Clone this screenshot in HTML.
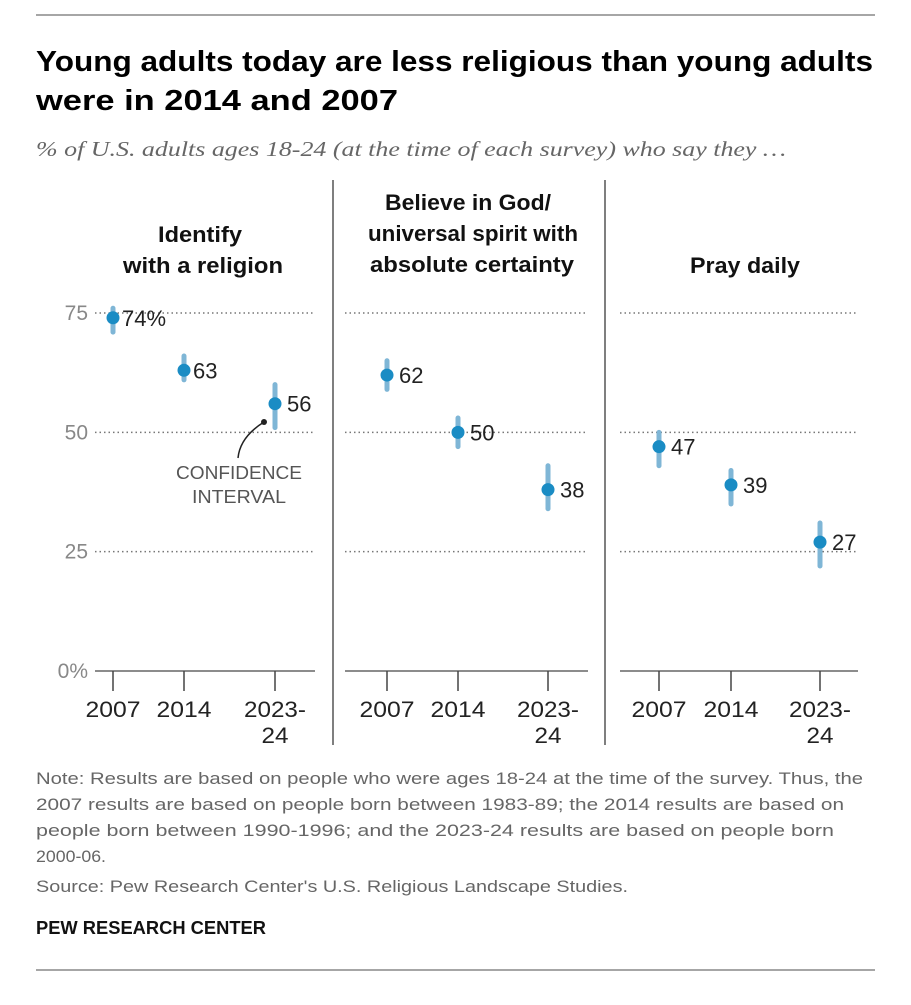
<!DOCTYPE html>
<html><head><meta charset="utf-8"><style>
body{margin:0;background:#fff;width:911px;height:1000px;overflow:hidden;font-family:"Liberation Sans",sans-serif}
</style></head><body>
<svg width="911" height="1000" xmlns="http://www.w3.org/2000/svg" font-family="Liberation Sans, sans-serif">
<line x1="36" y1="15" x2="875" y2="15" stroke="#888" stroke-width="1.5"/>
<text x="36" y="71" font-size="29" font-weight="bold" fill="#000" textLength="837" lengthAdjust="spacingAndGlyphs">Young adults today are less religious than young adults</text>
<text x="36" y="110" font-size="29" font-weight="bold" fill="#000" textLength="362" lengthAdjust="spacingAndGlyphs">were in 2014 and 2007</text>
<text x="36" y="156" font-size="21" font-style="italic" fill="#666" font-family="Liberation Serif, serif" textLength="750" lengthAdjust="spacingAndGlyphs">% of U.S. adults ages 18-24 (at the time of each survey) who say they …</text>
<line x1="333" y1="180" x2="333" y2="745" stroke="#555" stroke-width="1.5"/>
<line x1="605" y1="180" x2="605" y2="745" stroke="#555" stroke-width="1.5"/>
<g font-size="22" font-weight="bold" text-anchor="middle" fill="#111" lengthAdjust="spacingAndGlyphs">
<text x="200" y="242" textLength="84" lengthAdjust="spacingAndGlyphs">Identify</text>
<text x="203" y="273" textLength="160" lengthAdjust="spacingAndGlyphs">with a religion</text>
<text x="468" y="210" textLength="166" lengthAdjust="spacingAndGlyphs">Believe in God/</text>
<text x="473" y="241" textLength="210" lengthAdjust="spacingAndGlyphs">universal spirit with</text>
<text x="472" y="272" textLength="204" lengthAdjust="spacingAndGlyphs">absolute certainty</text>
<text x="745" y="273" textLength="110" lengthAdjust="spacingAndGlyphs">Pray daily</text>
</g>
<g id="chart"></g>
<path d="M238 458 Q240 437 264 422" fill="none" stroke="#222" stroke-width="1.5"/>
<circle cx="264" cy="422" r="3" fill="#222"/>
<text x="239" y="479" font-size="18" fill="#555" text-anchor="middle" textLength="126" lengthAdjust="spacingAndGlyphs">CONFIDENCE</text>
<text x="239" y="503" font-size="18" fill="#555" text-anchor="middle" textLength="94" lengthAdjust="spacingAndGlyphs">INTERVAL</text>
<g font-size="17" fill="#666">
<text x="36" y="784" textLength="827" lengthAdjust="spacingAndGlyphs">Note: Results are based on people who were ages 18-24 at the time of the survey. Thus, the</text>
<text x="36" y="810" textLength="808" lengthAdjust="spacingAndGlyphs">2007 results are based on people born between 1983-89; the 2014 results are based on</text>
<text x="36" y="836" textLength="798" lengthAdjust="spacingAndGlyphs">people born between 1990-1996; and the 2023-24 results are based on people born</text>
<text x="36" y="862" textLength="70" lengthAdjust="spacingAndGlyphs">2000-06.</text>
<text x="36" y="892" textLength="592" lengthAdjust="spacingAndGlyphs">Source: Pew Research Center's U.S. Religious Landscape Studies.</text>
</g>
<text x="36" y="934" font-size="18" font-weight="bold" fill="#111" textLength="230" lengthAdjust="spacingAndGlyphs">PEW RESEARCH CENTER</text>
<line x1="36" y1="970" x2="875" y2="970" stroke="#888" stroke-width="1.5"/>
</svg>
<script>
const categories = ["2007","2014","2023-24"];
const identifyValues = [74,63,56];
const believeValues = [62,50,38];
const prayValues = [47,39,27];
const identifyLow = [71,61,51];
const identifyHigh = [76,66,60];
const believeLow = [59,47,34];
const believeHigh = [65,53,43];
const prayLow = [43,35,22];
const prayHigh = [50,42,31];
const yTicks = [0,25,50,75];

const NS="http://www.w3.org/2000/svg";
const g=document.getElementById('chart');
function y(v){return 671-4.773*v;}
function mk(tag,attrs){const e=document.createElementNS(NS,tag);for(const k in attrs)e.setAttribute(k,attrs[k]);g.appendChild(e);return e;}
const panels=[
 {name:'identify',x0:95,x1:315,xs:[113,184,275],vals:identifyValues,lo:identifyLow,hi:identifyHigh},
 {name:'believe',x0:345,x1:588,xs:[387,458,548],vals:believeValues,lo:believeLow,hi:believeHigh},
 {name:'pray',x0:620,x1:858,xs:[659,731,820],vals:prayValues,lo:prayLow,hi:prayHigh}
];
yTicks.forEach(t=>{
  const lbl=mk('text',{x:88,y:y(t)+7,'font-size':21,fill:'#888','text-anchor':'end'});
  lbl.textContent=t===0?'0%':String(t);
  
  
});
panels.forEach((p,pi)=>{
  yTicks.forEach(t=>{
    if(t===0)return;
    const l=mk('line',{x1:p.x0,x2:p.x1,y1:y(t),y2:y(t),stroke:'#777','stroke-width':1.5,'stroke-dasharray':'1.5 3'});
    
    
  });
  const ax=mk('line',{x1:p.x0,x2:p.x1,y1:y(0),y2:y(0),stroke:'#666','stroke-width':1.5});
  
  
  categories.forEach((c,i)=>{
    const x=p.xs[i];
    const tk=mk('line',{x1:x,x2:x,y1:y(0),y2:y(0)+20,stroke:'#444','stroke-width':1.5});
    
    
    const parts=c==='2023-24'?['2023-','24']:[c];
    parts.forEach((s,j)=>{
      const t=mk('text',{x:x,y:717+j*26,'font-size':22,fill:'#222','text-anchor':'middle',textLength:s.length>=5?62:(s.length===4?55:27),lengthAdjust:'spacingAndGlyphs'});
      t.textContent=s;
      
      
    });
    const ci=mk('line',{x1:x,x2:x,y1:y(p.hi[i]),y2:y(p.lo[i]),stroke:'#7fb6d6','stroke-width':5,'stroke-linecap':'round'});
    
    
    const d=mk('circle',{cx:x,cy:y(p.vals[i]),r:6.5,fill:'#1a8cc4'});
    
    
    const v=mk('text',{x:x+(pi===0&&i<2?9:12),y:y(p.vals[i])+8,'font-size':22,fill:'#222'});
    v.textContent=p.vals[i]+(pi===0&&i===0?'%':'');
    
    
  });
});
</script>
</body></html>
